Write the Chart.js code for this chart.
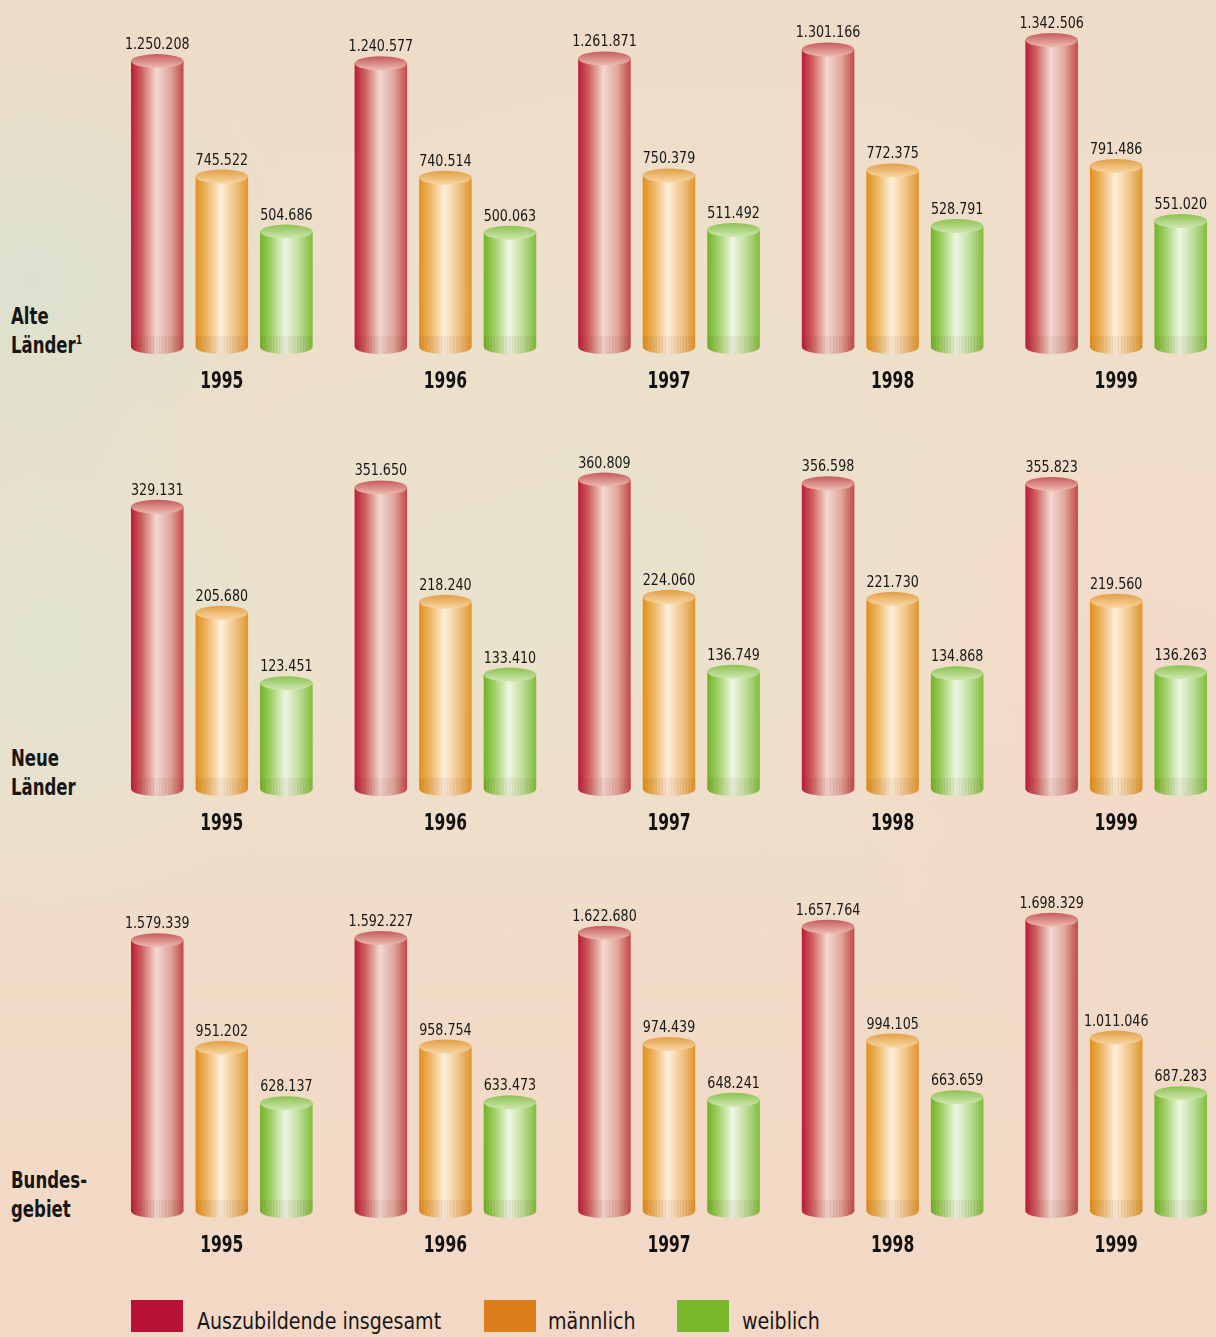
<!DOCTYPE html>
<html lang="de">
<head>
<meta charset="utf-8">
<title>Auszubildende 1995 bis 1999</title>
<script src="https://cdn.jsdelivr.net/npm/chart.js@4.4.1/dist/chart.umd.min.js"></script>
<style>
  html, body { margin: 0; padding: 0; overflow: hidden; }
  #page {
    position: relative; width: 1216px; height: 1337px; overflow: hidden;
    font-family: "Liberation Sans Narrow", "DejaVu Sans Condensed", "Arial Narrow", sans-serif;
    color: #161616;
    background:
      radial-gradient(ellipse 280px 260px at 30px 280px, rgba(218,226,208,0.9), rgba(218,226,208,0)),
      radial-gradient(ellipse 260px 280px at 50px 640px, rgba(222,228,210,0.85), rgba(222,228,210,0)),
      radial-gradient(ellipse 420px 300px at 560px 560px, rgba(230,228,206,0.6), rgba(230,228,206,0)),
      radial-gradient(ellipse 380px 260px at 700px 300px, rgba(236,226,204,0.5), rgba(236,226,204,0)),
      radial-gradient(ellipse 320px 360px at 1150px 700px, rgba(246,214,200,0.7), rgba(246,214,200,0)),
      linear-gradient(180deg, #efdcc8 0%, #eee0cb 45%, #f0dcc8 70%, #f3d8c5 100%);
  }
  canvas { position: absolute; left: 110px; }
  .zeile {
    position: absolute; left: 11px; font-weight: bold; font-size: 23px; line-height: 28.5px;
    transform: scaleX(0.8); transform-origin: 0 0; white-space: nowrap;
  }
  .zeile sup { font-size: 13px; vertical-align: 0; position: relative; top: -9px; }
  .box { position: absolute; top: 1300px; width: 52px; height: 32px; }
  .txt {
    position: absolute; top: 1310px; font-size: 23px; line-height: 23px; white-space: nowrap;
    transform: scaleX(0.92); transform-origin: 0 0;
  }
</style>
</head>
<body>
<div id="page">
  <canvas id="alte"></canvas>
  <canvas id="neue"></canvas>
  <canvas id="bund"></canvas>

  <div class="zeile" style="top:302px">Alte<br>Länder<sup>1</sup></div>
  <div class="zeile" style="top:744px">Neue<br>Länder</div>
  <div class="zeile" style="top:1166px">Bundes-<br>gebiet</div>

  <div class="box" style="left:131px;background:#b91036"></div>
  <div class="txt" style="left:197px">Auszubildende insgesamt</div>
  <div class="box" style="left:484px;background:#dc7e1a"></div>
  <div class="txt" style="left:548px">männlich</div>
  <div class="box" style="left:677px;background:#7ab829"></div>
  <div class="txt" style="left:742px">weiblich</div>
</div>
<script>
// Jahre und Reihen
const jahre = ['1995', '1996', '1997', '1998', '1999'];
const reihen = ['Auszubildende insgesamt', 'männlich', 'weiblich'];

// Alte Länder
const alteInsgesamt = [1250208, 1240577, 1261871, 1301166, 1342506];
const alteMaennlich = [745522, 740514, 750379, 772375, 791486];
const alteWeiblich = [504686, 500063, 511492, 528791, 551020];

// Neue Länder
const neueInsgesamt = [329131, 351650, 360809, 356598, 355823];
const neueMaennlich = [205680, 218240, 224060, 221730, 219560];
const neueWeiblich = [123451, 133410, 136749, 134868, 136263];

// Bundesgebiet
const bundInsgesamt = [1579339, 1592227, 1622680, 1657764, 1698329];
const bundMaennlich = [951202, 958754, 974439, 994105, 1011046];
const bundWeiblich = [628137, 633473, 648241, 663659, 687283];

const schrift = "'Liberation Sans Narrow', 'DejaVu Sans Condensed', 'Arial Narrow', sans-serif";

// Farben der Zylinder: Mantel (links -> rechts) und Deckel (oben -> unten)
const farben = [
  { mantel: ['#bb1b3a', '#cd5f62', '#f3d8d0', '#e0a69c', '#c3474a'], deckel: ['#c65a5c', '#ecbcb1'] },
  { mantel: ['#df901c', '#edb25e', '#fdefdc', '#f1c487', '#e0952c'], deckel: ['#e39f45', '#f8d6a4'] },
  { mantel: ['#70b326', '#a0cf66', '#eef6e2', '#bddc98', '#80bc3a'], deckel: ['#8cc251', '#d0e7b2'] }
];

function punkte(v) {
  return String(v).replace(/\B(?=(\d{3})+(?!\d))/g, '.');
}

// schmal gesetzter Text (horizontal gestaucht)
function schmal(ctx, text, x, y, sx) {
  ctx.save();
  ctx.translate(x, y);
  ctx.scale(sx, 1);
  ctx.fillText(text, 0, 0);
  ctx.restore();
}

// zeichnet jeden Balken als Zylinder, schreibt den Wert darüber und das Jahr darunter
const zylinder = {
  id: 'zylinder',
  afterDatasetsDraw(chart) {
    const ctx = chart.ctx;
    chart.data.datasets.forEach((ds, i) => {
      const f = farben[i];
      chart.getDatasetMeta(i).data.forEach((bar, j) => {
        const x = bar.x, y = bar.y, base = bar.base, rx = bar.width / 2, ry = 7;

        const g = ctx.createLinearGradient(x - rx, 0, x + rx, 0);
        [0, 0.2, 0.48, 0.75, 1].forEach((s, k) => g.addColorStop(s, f.mantel[k]));

        ctx.save();
        ctx.beginPath();
        ctx.moveTo(x - rx, y);
        ctx.lineTo(x - rx, base);
        ctx.ellipse(x, base, rx, ry, 0, Math.PI, 0, true);
        ctx.lineTo(x + rx, y);
        ctx.closePath();
        ctx.fillStyle = g;
        ctx.fill();

        // gestreifter Fuß
        ctx.clip();
        ctx.fillStyle = 'rgba(110,40,20,0.04)';
        ctx.fillRect(x - rx, base - 11, rx * 2, ry + 12);
        ctx.fillStyle = 'rgba(110,40,20,0.06)';
        for (let s = x - rx + 1; s < x + rx; s += 3) {
          ctx.fillRect(s, base - 11, 1.2, ry + 12);
        }
        ctx.restore();

        const d = ctx.createLinearGradient(0, y - ry, 0, y + ry);
        d.addColorStop(0, f.deckel[0]);
        d.addColorStop(1, f.deckel[1]);
        ctx.beginPath();
        ctx.ellipse(x, y, rx, ry, 0, 0, Math.PI * 2);
        ctx.fillStyle = d;
        ctx.fill();

        ctx.fillStyle = '#161616';
        ctx.font = '15px ' + schrift;
        ctx.textAlign = 'center';
        ctx.textBaseline = 'alphabetic';
        schmal(ctx, punkte(ds.data[j]), x, y - 12, 0.94);
      });
    });

    const sx = chart.scales.x;
    ctx.fillStyle = '#111';
    ctx.font = 'bold 23px ' + schrift;
    ctx.textAlign = 'center';
    ctx.textBaseline = 'alphabetic';
    chart.data.labels.forEach((lab, i) => {
      schmal(ctx, lab, sx.getPixelForValue(i), chart.chartArea.bottom + 41, 0.75);
    });
  }
};

const PLOT = 343, OBEN = 30, UNTEN = 50;

function zeichne(id, basis, max, insg, maen, weib) {
  const cv = document.getElementById(id);
  cv.width = 1118;
  cv.height = OBEN + PLOT + UNTEN;
  cv.style.top = (basis - PLOT - OBEN) + 'px';
  const leer = 'rgba(0,0,0,0)';
  new Chart(cv, {
    type: 'bar',
    data: {
      labels: jahre,
      datasets: [
        { label: reihen[0], data: insg, backgroundColor: leer },
        { label: reihen[1], data: maen, backgroundColor: leer },
        { label: reihen[2], data: weib, backgroundColor: leer }
      ]
    },
    options: {
      responsive: false,
      animation: false,
      events: [],
      layout: { padding: { top: OBEN, left: 0, right: 0, bottom: 0 } },
      datasets: { bar: { categoryPercentage: 0.866, barPercentage: 0.814 } },
      plugins: { legend: { display: false }, tooltip: { enabled: false } },
      scales: {
        x: {
          grid: { display: false, drawTicks: false },
          border: { display: false },
          ticks: { display: false },
          afterFit(s) { s.height = UNTEN; }
        },
        y: { display: false, min: 0, max: max }
      }
    },
    plugins: [zylinder]
  });
}

zeichne('alte', 347, 1500000, alteInsgesamt, alteMaennlich, alteWeiblich);
zeichne('neue', 789, 400000, neueInsgesamt, neueMaennlich, neueWeiblich);
zeichne('bund', 1211, 2000000, bundInsgesamt, bundMaennlich, bundWeiblich);
</script>
</body>
</html>
